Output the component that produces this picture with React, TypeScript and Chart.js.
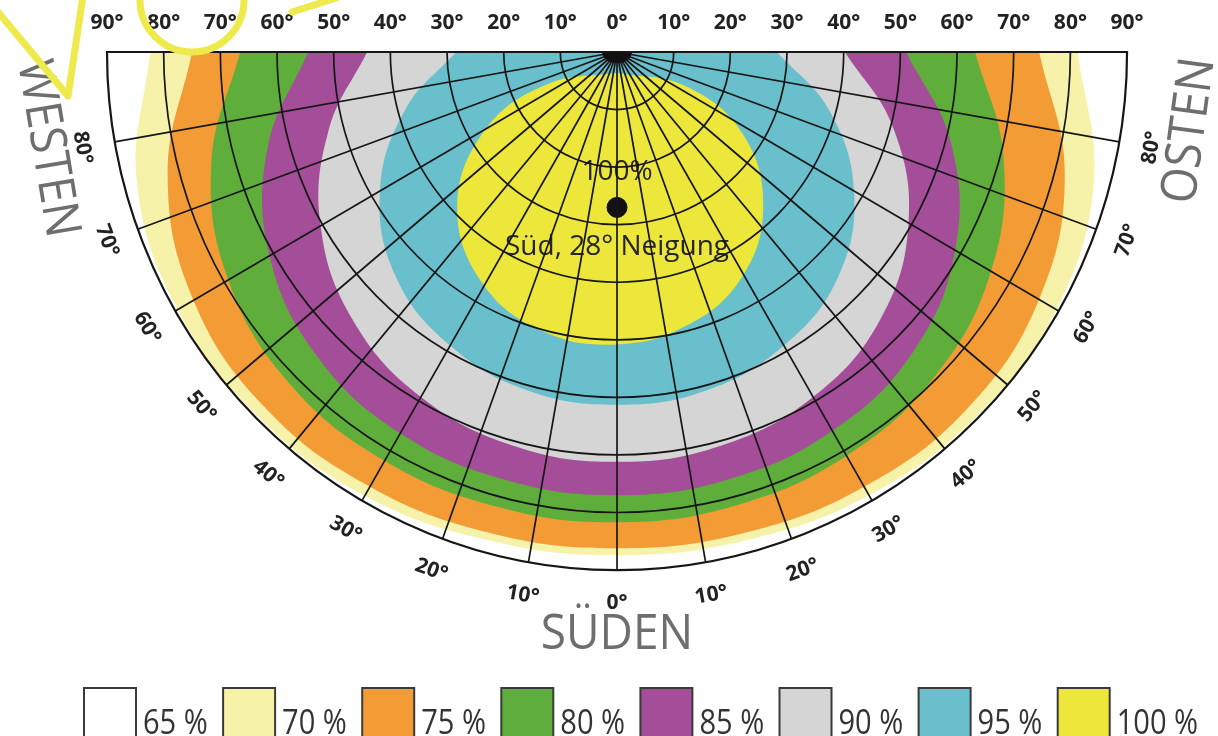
import React, { useEffect, useRef } from 'react';
import { Chart, registerables } from 'chart.js';

Chart.register(...registerables);

// ---- data -----------------------------------------------------------------
// azimuth of each contour sample (deg; + = west, 0 = south, - = east)
const azimuths = [90, 75, 60, 45, 30, 15, 0, -15, -30, -45, -60, -75, -90];
// tilt (deg) at which the yield drops below each level, for each azimuth above
const tilt70 = [82.4, 87.7, 89.5, 89.6, 89.0, 87.8, 87.4, 87.8, 88.9, 89.6, 89.5, 87.1, 81.3];
const tilt75 = [75.0, 82.1, 86.3, 87.6, 87.2, 86.5, 86.2, 86.5, 87.2, 87.5, 86.0, 81.8, 74.5];
const tilt80 = [66.5, 74.1, 79.2, 81.6, 82.0, 81.8, 81.7, 81.5, 81.0, 79.5, 76.2, 70.6, 63.2];
const tilt85 = [54.5, 63.8, 70.8, 74.8, 76.5, 76.9, 77.0, 76.8, 76.0, 73.8, 68.9, 61.0, 51.0];
const tilt90 = [44.1, 52.7, 60.4, 65.9, 69.2, 70.8, 71.2, 70.8, 69.2, 65.7, 59.4, 50.4, 40.2];
const tilt95 = [28.4, 38.7, 48.3, 55.2, 58.9, 60.9, 61.3, 60.9, 58.9, 55.2, 48.3, 38.7, 28.2];

// optimum orientation
const peakAzimuth = 0;
const peakTilt = 27;
// 100 % contour: distance (deg) from the optimum in each direction (0 = east side, 90 = steeper)
const peakDirections = [270, 300, 330, 0, 30, 60, 90, 120, 150, 180, 210, 240];
const peakRadius = [23.4, 24.3, 25.6, 25.8, 25.1, 23.9, 23.8, 25.1, 27.1, 28.2, 26.9, 24.7];

const levelLabels = ['65 %', '70 %', '75 %', '80 %', '85 %', '90 %', '95 %', '100 %'];
const levelColors = ['#ffffff', '#f6f2a9', '#f39c36', '#5fae3b', '#a44d98', '#d5d5d5', '#69bfcb', '#ede63b'];

const tiltTicks = [0, 10, 20, 30, 40, 50, 60, 70, 80, 90];
const azimuthTicks = [0, 10, 20, 30, 40, 50, 60, 70, 80];

// ---- helpers ----------------------------------------------------------------
const rad = (d: number) => (d * Math.PI) / 180;
const toXY = (az: number, t: number) => ({ x: -t * Math.sin(rad(az)), y: t * Math.cos(rad(az)) });
const ring = (tilts: number[]) => azimuths.map((a, i) => toXY(a, tilts[i]));
const peak = toXY(peakAzimuth, peakTilt);
const peakShape = peakDirections.map((d, i) => ({
  x: peak.x + peakRadius[i] * Math.cos(rad(d)),
  y: peak.y + peakRadius[i] * Math.sin(rad(d)),
}));
peakShape.push(peakShape[0]);

const zone = (data: { x: number; y: number }[], color: string) => ({
  data,
  showLine: true,
  fill: 'shape',
  backgroundColor: color,
  borderColor: 'rgba(0,0,0,0)',
  borderWidth: 0,
  pointRadius: 0,
  tension: 0.4,
});

// view window (degrees)
const X_MIN = -108.88;
const X_MAX = 106.05;
const Y_MIN = -9.034;
const Y_MAX = 118.83;

const diagramPlugin = {
  id: 'diagram',
  afterDatasetsDraw(chart: any) {
    const ctx = chart.ctx as CanvasRenderingContext2D;
    const xs = chart.scales.x;
    const ys = chart.scales.y;
    const px = (v: number) => xs.getPixelForValue(v);
    const py = (v: number) => ys.getPixelForValue(v);
    const cx = px(0);
    const cy = py(0);
    ctx.save();
    // centre annotation (under the grid)
    ctx.fillStyle = '#262626';
    ctx.textAlign = 'center';
    ctx.textBaseline = 'middle';
    ctx.font = '28px "Open Sans"';
    ctx.fillText('100%', px(peak.x), py(peak.y - 6.2));
    ctx.fillText('Süd, 28° Neigung', px(peak.x), py(peak.y + 6.9));

    // grid
    ctx.strokeStyle = '#161616';
    ctx.lineWidth = 1.7;
    tiltTicks
      .filter((t) => t > 0 && t < 90)
      .forEach((t) => {
        ctx.beginPath();
        ctx.ellipse(cx, cy, px(t) - cx, py(t) - cy, 0, 0, Math.PI);
        ctx.stroke();
      });
    azimuthTicks.forEach((a) => {
      (a === 0 ? [0] : [a, -a]).forEach((az) => {
        const p = toXY(az, 90);
        ctx.beginPath();
        ctx.moveTo(cx, cy);
        ctx.lineTo(px(p.x), py(p.y));
        ctx.stroke();
      });
    });
    // converging hub
    ctx.fillStyle = '#111';
    ctx.beginPath();
    ctx.ellipse(cx, cy, 15, 11, 0, 0, Math.PI);
    ctx.fill();
    // outline
    ctx.lineWidth = 2.2;
    ctx.beginPath();
    ctx.moveTo(px(-90), cy);
    ctx.lineTo(px(90), cy);
    ctx.ellipse(cx, cy, px(90) - cx, py(90) - cy, 0, 0, Math.PI);
    ctx.closePath();
    ctx.stroke();
    ctx.restore();
  },
  afterDraw(chart: any) {
    const ctx = chart.ctx as CanvasRenderingContext2D;
    const xs = chart.scales.x;
    const ys = chart.scales.y;
    const px = (v: number) => xs.getPixelForValue(v);
    const py = (v: number) => ys.getPixelForValue(v);
    ctx.save();
    ctx.textAlign = 'center';
    ctx.textBaseline = 'middle';

    // tilt labels along the top
    ctx.fillStyle = '#222';
    ctx.font = 'bold 21px "Open Sans"';
    tiltTicks.forEach((t) => {
      (t === 0 ? [0] : [-t, t]).forEach((x) => ctx.fillText(`${t}°`, px(x), py(-5)));
    });

    // azimuth labels around the rim
    azimuthTicks.forEach((a) => {
      (a === 0 ? [0] : [a, -a]).forEach((az) => {
        const p = toXY(az, 95.8);
        ctx.save();
        ctx.translate(px(p.x), py(p.y));
        ctx.rotate(rad(az));
        ctx.fillText(`${a}°`, 0, 0);
        ctx.restore();
      });
    });

    // compass words
    ctx.fillStyle = '#6e6e6e';
    ctx.font = '50px "Open Sans"';
    const word = (text: string, az: number, r: number, rot: number) => {
      const p = toXY(az, r);
      ctx.save();
      ctx.translate(px(p.x), py(p.y));
      ctx.rotate(rad(rot));
      ctx.scale(0.92, 1);
      ctx.fillText(text, 0, 0);
      ctx.restore();
    };
    word('WESTEN', 80.5, 102, 80.5);
    word('OSTEN', -82.3, 102, -82.3);
    word('SÜDEN', 0, 101.3, 0);

    // legend
    ctx.textAlign = 'left';
    ctx.textBaseline = 'alphabetic';
    ctx.font = '35px "Open Sans"';
    levelLabels.forEach((label, i) => {
      const bx = 84 + i * 139.1;
      ctx.fillStyle = levelColors[i];
      ctx.fillRect(bx, 688, 52, 60);
      ctx.strokeStyle = '#3a3a3a';
      ctx.lineWidth = 2;
      ctx.strokeRect(bx, 688, 52, 60);
      ctx.fillStyle = '#333';
      ctx.save();
      ctx.translate(bx + 59, 734);
      ctx.scale(0.83, 1);
      ctx.fillText(label, 0, 0);
      ctx.restore();
    });

    // hand-drawn yellow marks on the original
    ctx.strokeStyle = '#eeea4c';
    ctx.lineWidth = 7;
    ctx.lineCap = 'round';
    ctx.lineJoin = 'round';
    ctx.beginPath();
    ctx.arc(192, 0, 52, 0, Math.PI * 2);
    ctx.stroke();
    ctx.beginPath();
    ctx.moveTo(-2, 12);
    ctx.lineTo(68, 96);
    ctx.lineTo(83, -4);
    ctx.stroke();
    ctx.beginPath();
    ctx.moveTo(292, 12);
    ctx.lineTo(336, -2);
    ctx.stroke();
    ctx.restore();
  },
};

export default function App() {
  const ref = useRef<HTMLCanvasElement>(null);
  useEffect(() => {
    document.body.style.margin = '0';
    const chart = new Chart(ref.current as HTMLCanvasElement, {
      type: 'scatter',
      data: {
        datasets: [
          {
            data: [peak],
            pointRadius: 10,
            pointBackgroundColor: '#111',
            pointBorderColor: '#111',
            showLine: false,
          },
          zone(peakShape, levelColors[7]),
          zone(ring(tilt95), levelColors[6]),
          zone(ring(tilt90), levelColors[5]),
          zone(ring(tilt85), levelColors[4]),
          zone(ring(tilt80), levelColors[3]),
          zone(ring(tilt75), levelColors[2]),
          zone(ring(tilt70), levelColors[1]),
        ] as any,
      },
      options: {
        animation: false,
        responsive: false,
        devicePixelRatio: 1,
        events: [],
        layout: { padding: 0, autoPadding: false },
        plugins: { legend: { display: false }, tooltip: { enabled: false }, title: { display: false } },
        scales: {
          x: { type: 'linear', min: X_MIN, max: X_MAX, display: false },
          y: { type: 'linear', min: Y_MIN, max: Y_MAX, reverse: true, display: false },
        },
      } as any,
      plugins: [diagramPlugin],
    });
    return () => chart.destroy();
  }, []);
  return (
    <div style={{ position: 'fixed', left: 0, top: 0, width: 1218, height: 736, background: '#fff' }}>
      <canvas ref={ref} width={1218} height={736} style={{ display: 'block', width: 1218, height: 736 }} />
    </div>
  );
}
